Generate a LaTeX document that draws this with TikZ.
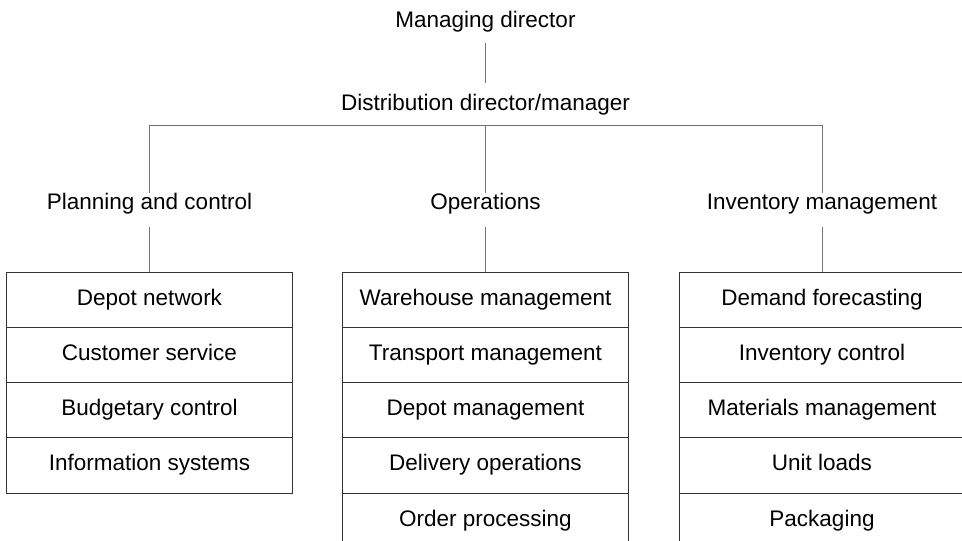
\documentclass[tikz,border=0pt]{standalone}
\usepackage{fontspec}
\setmainfont{Liberation Sans}
\begin{document}
\begin{tikzpicture}[x=1pt,y=-1pt,
  txt/.style={inner sep=0pt, outer sep=0pt, text height=16pt, text depth=5pt,
    font=\fontsize{22.5}{27}\selectfont},
  cell/.style={txt, draw=black!80, line width=1pt, minimum width=286pt,
    minimum height=55.25pt, anchor=center},
  conn/.style={draw=black!55, line width=1pt}]
\useasboundingbox (0,0) rectangle (962,541);
\clip (0,0) rectangle (962,541);

% top levels
\node[txt] (md) at (485.5,22) {Managing director};
\node[txt] (dd) at (485.5,104.5) {Distribution director/manager};
\coordinate (bl) at (149.5,125);
\coordinate (bm) at (485.5,125);
\coordinate (br) at (822,125);

% second level labels
\node[txt] (pc) at (149.5,203.5) {Planning and control};
\node[txt] (op) at (485.5,203.5) {Operations};
\node[txt] (im) at (822,203.5) {Inventory management};

% left box
\node[cell] (l1) at (149.5,299.625) {Depot network};
\node[cell] (l2) at (149.5,354.875) {Customer service};
\node[cell] (l3) at (149.5,410.125) {Budgetary control};
\node[cell] (l4) at (149.5,465.375) {Information systems};

% middle box
\node[cell] (m1) at (485.5,299.625) {Warehouse management};
\node[cell] (m2) at (485.5,354.875) {Transport management};
\node[cell] (m3) at (485.5,410.125) {Depot management};
\node[cell] (m4) at (485.5,465.375) {Delivery operations};
\node[cell] (m5) at (485.5,520.625) {Order processing};

% right box
\node[cell] (r1) at (822,299.625) {Demand forecasting};
\node[cell] (r2) at (822,354.875) {Inventory control};
\node[cell] (r3) at (822,410.125) {Materials management};
\node[cell] (r4) at (822,465.375) {Unit loads};
\node[cell] (r5) at (822,520.625) {Packaging};

% connectors
\draw[conn, shorten <=10.5pt, shorten >=11pt] (md.south) -- (dd.north);
\draw[conn] (bl) -- (br);
\draw[conn] (bl) -- (pc.north);
\draw[conn] (bm) -- (op.north);
\draw[conn] (br) -- (im.north);
\draw[conn, shorten <=13pt] (pc.south) -- (l1.north);
\draw[conn, shorten <=13pt] (op.south) -- (m1.north);
\draw[conn, shorten <=13pt] (im.south) -- (r1.north);
\end{tikzpicture}
\end{document}
